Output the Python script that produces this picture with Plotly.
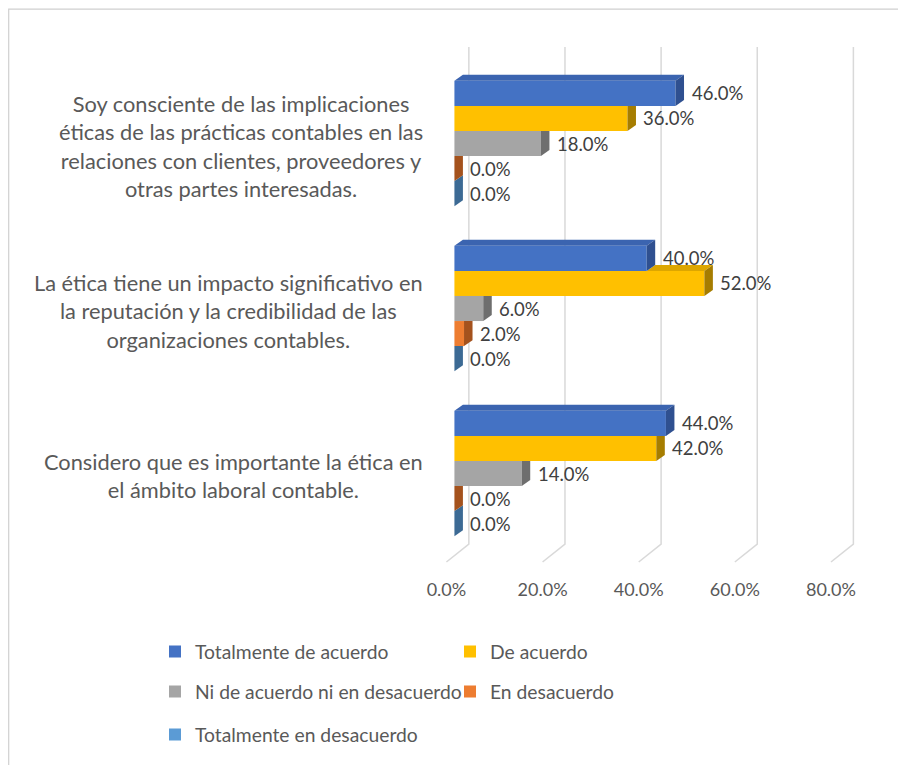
import plotly.graph_objects as go

# datos
categorias = [
    "Soy consciente de las implicaciones<br>éticas de las prácticas contables en las<br>relaciones con clientes, proveedores y<br>otras partes interesadas.",
    "La ética tiene un impacto significativo en<br>la reputación y la credibilidad de las<br>organizaciones contables.",
    "Considero que es importante la ética en<br>el ámbito laboral contable.",
]
series = [
    "Totalmente de acuerdo",
    "De acuerdo",
    "Ni de acuerdo ni en desacuerdo",
    "En desacuerdo",
    "Totalmente en desacuerdo",
]
totalmente_de_acuerdo = [46, 40, 44]
de_acuerdo = [36, 52, 42]
ni_de_acuerdo_ni_en_desacuerdo = [18, 6, 14]
en_desacuerdo = [0, 2, 0]
totalmente_en_desacuerdo = [0, 0, 0]
ticks_x = [0, 20, 40, 60, 80]

valores = [totalmente_de_acuerdo, de_acuerdo, ni_de_acuerdo_ni_en_desacuerdo,
           en_desacuerdo, totalmente_en_desacuerdo]

# colores: frente, arriba, lado
colores = ["#4472C4", "#FFC000", "#A5A5A5", "#ED7D31", "#5B9BD5"]
colores_arriba = ["#3B64B0", "#DDA600", "#8F8F8F", "#CC6A28", "#4F86B9"]
colores_lado = ["#2F5090", "#A67D00", "#6E6E6E", "#A4521D", "#3C6A94"]
legend_ids = ["legend", "legend", "legend2", "legend2", "legend3"]

OFF = 8                           # margen del body de la pagina
W, H = 906 - OFF, 765 - OFF
L, R, T, B = 440 - OFF, 43, 61 - OFF, 208
XMIN, XMAX = -3, 85
pw = W - L - R
ph = H - T - B
ppu = pw / (XMAX - XMIN)          # pixeles por unidad en x
banda = ph / len(categorias)      # pixeles por categoria
bargap = 0.24
ancho = (1 - bargap) / len(series)
dxu = 8.5 / ppu                   # profundidad 3D
dyu = 6 / banda


def px_x(p):
    return (p - OFF - L) / pw


def px_y(p):
    return (T + ph - (p - OFF)) / ph


pos_y = list(range(len(categorias)))

fig = go.Figure()
for j, nombre in enumerate(series):
    fig.add_trace(go.Bar(
        y=pos_y, x=valores[j], name=nombre, orientation="h",
        marker=dict(color=colores[j], line=dict(width=0)),
        legend=legend_ids[j], hoverinfo="skip",
    ))

shapes = []
annotations = []

# lineas de cuadricula en la pared del fondo
for v in ticks_x:
    shapes.append(dict(
        type="path", xref="x", yref="paper", layer="below",
        path=f"M{v + 3.0},{px_y(47)} L{v + 3.0},{px_y(545)} L{v - 1.66},{px_y(563)}",
        line=dict(color="#D9D9D9", width=1.5),
    ))

# caras superior y lateral de cada barra (de abajo hacia arriba)
for i in pos_y:
    for j in range(len(series) - 1, -1, -1):
        v = valores[j][i]
        yc = i - (1 - bargap) / 2 + (j + 0.5) * ancho
        top, bot = yc - ancho / 2, yc + ancho / 2
        va = valores[j - 1][i] if j > 0 else None
        # cara superior
        if va is None or v > va:
            x0 = 0 if va is None else va
            shapes.append(dict(
                type="path", xref="x", yref="y", layer="above",
                path=f"M{x0},{top} L{x0 + dxu},{top - dyu} L{v + dxu},{top - dyu} L{v},{top} Z",
                fillcolor=colores_arriba[j], line=dict(width=0),
            ))
        # cara lateral
        if va is None or va <= v:
            pts = [(v, top), (v + dxu, top - dyu), (v + dxu, bot - dyu), (v, bot)]
        elif va >= v + dxu:
            pts = [(v, top), (v + dxu, top), (v + dxu, bot - dyu), (v, bot)]
        else:
            t = (va - v) / dxu
            pts = [(v, top), (va, top), (va, top - dyu * t), (v + dxu, top - dyu),
                   (v + dxu, bot - dyu), (v, bot)]
        path = "M" + " L".join(f"{a},{b}" for a, b in pts) + " Z"
        shapes.append(dict(
            type="path", xref="x", yref="y", layer="above", path=path,
            fillcolor=colores_lado[j], line=dict(width=0),
        ))
        # etiqueta de datos
        annotations.append(dict(
            x=v, y=yc, xref="x", yref="y", text=f"{v:.1f}%", showarrow=False,
            xanchor="left", yanchor="middle", xshift=14,
            font=dict(family="Lato", size=18.5, color="#404040"),
        ))

# etiquetas de categorias
for i, cat in enumerate(categorias):
    annotations.append(dict(
        x=px_x(425), y=i, xref="paper", yref="y", text=cat, showarrow=False,
        xanchor="right", yanchor="middle", align="center", yshift=-2,
        font=dict(family="Lato", size=21.8, color="#595959"),
    ))

# borde del grafico
shapes.append(dict(
    type="rect", xref="paper", yref="paper",
    x0=px_x(8.7), x1=px_x(930), y0=px_y(9), y1=px_y(790),
    line=dict(color="#D0D0D0", width=1.2), fillcolor="rgba(0,0,0,0)",
))

leg = dict(orientation="h", xanchor="left", yanchor="middle", entrywidth=250,
           font=dict(family="Lato", size=19.3, color="#595959"),
           bgcolor="rgba(0,0,0,0)", itemclick=False, tracegroupgap=0)

fig.update_layout(
    width=W, height=H,
    margin=dict(l=L, r=R, t=T, b=B),
    paper_bgcolor="white", plot_bgcolor="white",
    barmode="group", bargap=bargap, bargroupgap=0,
    shapes=shapes, annotations=annotations,
    legend=dict(leg, x=px_x(155), y=px_y(652)),
    legend2=dict(leg, x=px_x(155), y=px_y(692)),
    legend3=dict(leg, x=px_x(155), y=px_y(735)),
    xaxis=dict(range=[XMIN, XMAX], tickvals=ticks_x, ticktext=[f"{t:.1f}%" for t in ticks_x],
               showgrid=False, zeroline=False, showline=False, ticks="",
               ticklabelshift=-8, ticklabelstandoff=21,
               tickfont=dict(family="Lato", size=18, color="#595959")),
    yaxis=dict(range=[len(categorias) - 0.5, -0.5], showticklabels=False,
               showgrid=False, zeroline=False, showline=False, ticks=""),
    font=dict(family="Lato", color="#595959"),
    showlegend=True,
)

fig.write_html("out.html")
